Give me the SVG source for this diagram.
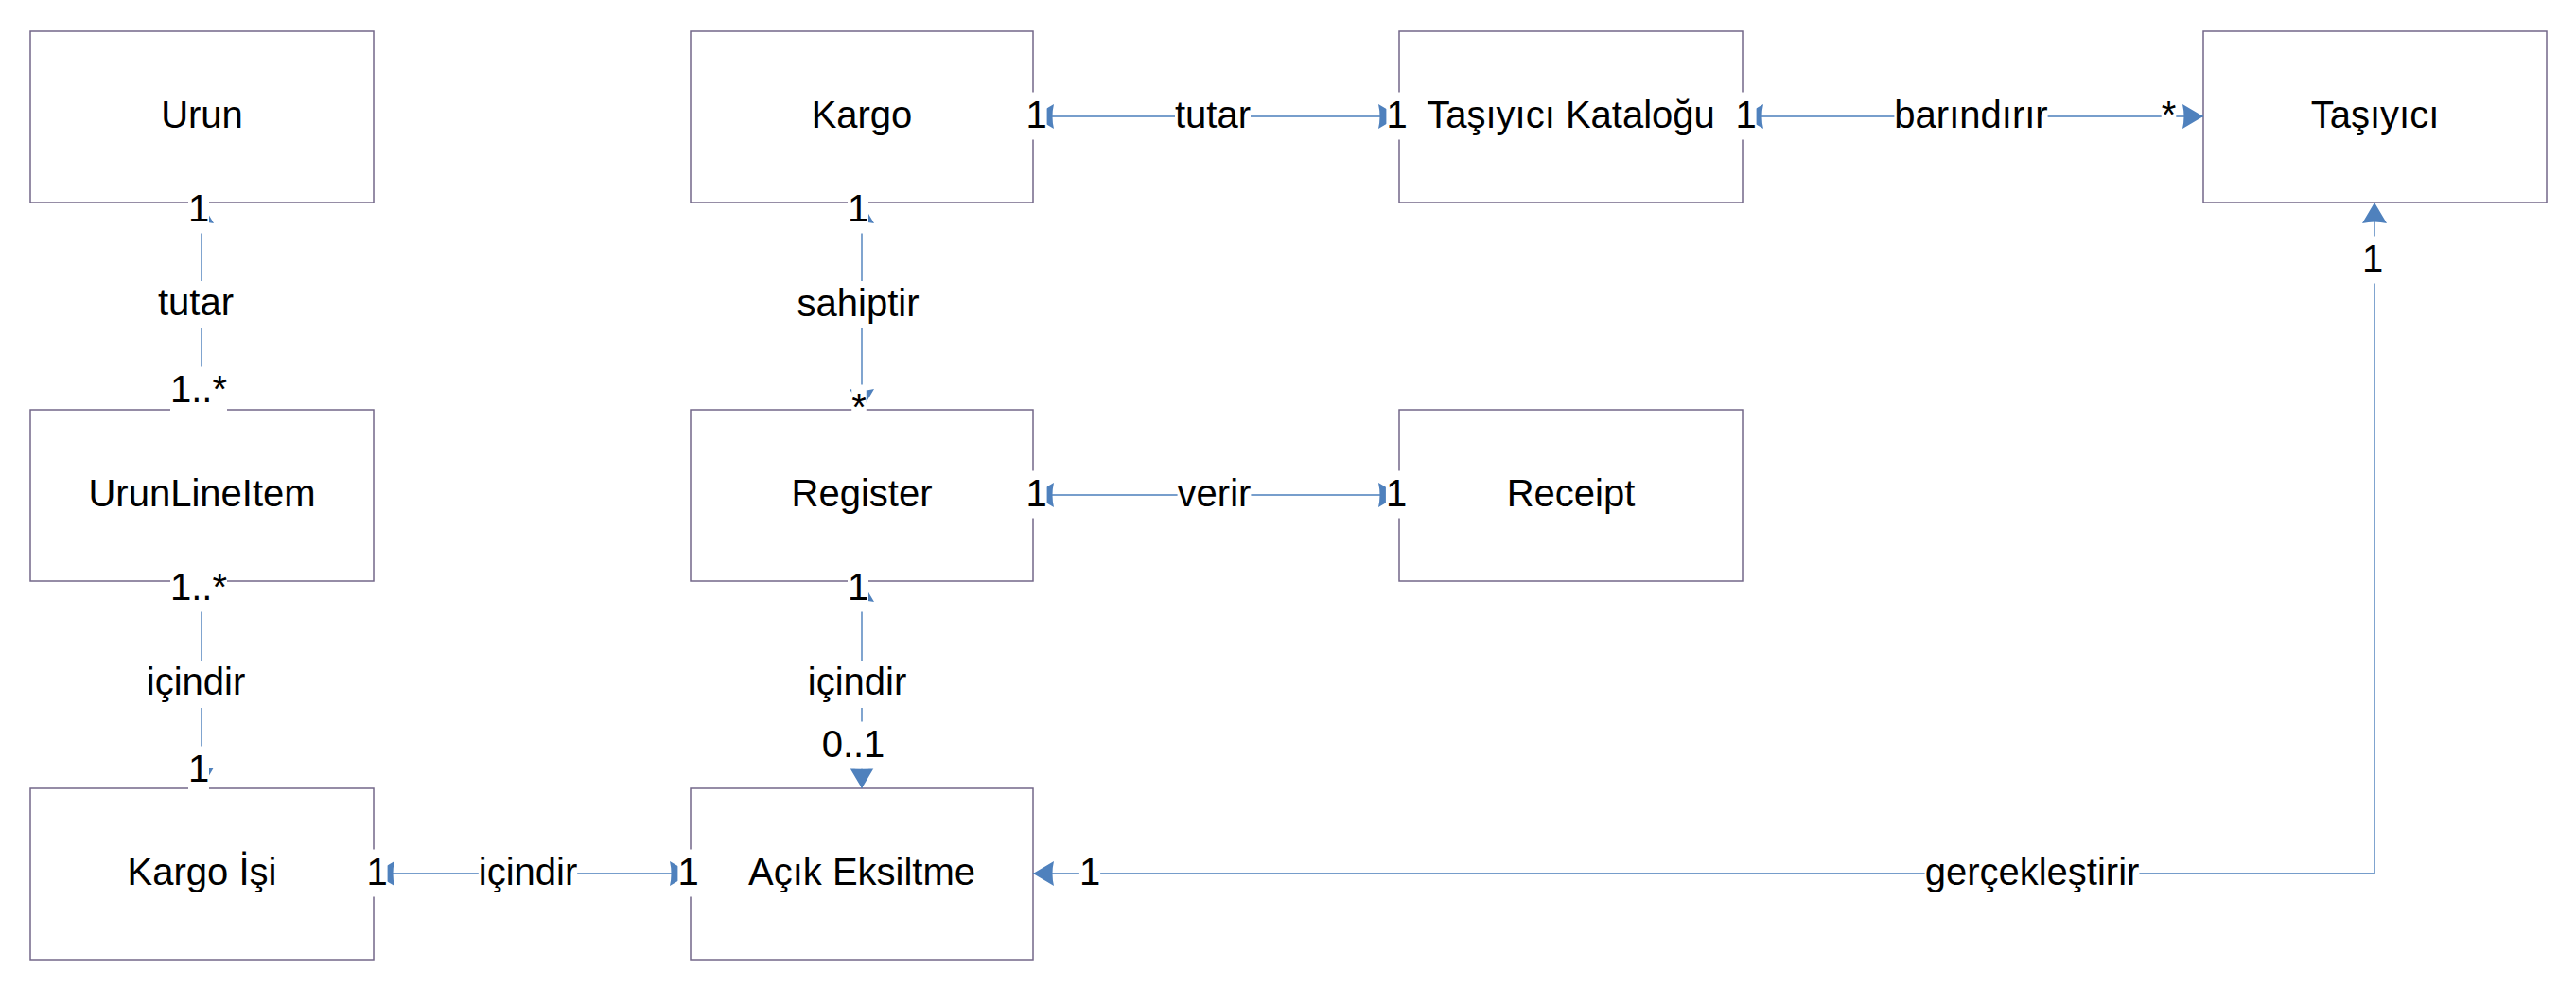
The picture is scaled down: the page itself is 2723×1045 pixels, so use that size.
<svg xmlns="http://www.w3.org/2000/svg" width="2723" height="1045" viewBox="0 0 2723 1045">
<style>
.box{fill:#ffffff;stroke:#736789;stroke-width:1.5}
.nt{font-family:"Liberation Sans",Arial,sans-serif;font-size:40px;fill:#000;text-anchor:middle}
.ln{fill:none;stroke:#4a7ebb;stroke-width:1.4;marker-start:url(#ah);marker-end:url(#ah)}
.bg{fill:#ffffff}
.lt{font-family:"Liberation Sans",Arial,sans-serif;font-size:40px;fill:#000;text-anchor:middle}
</style>
<defs>
<marker id="ah" markerUnits="userSpaceOnUse" markerWidth="22" markerHeight="26" refX="22" refY="13" orient="auto-start-reverse" overflow="visible">
<path d="M0,0 L22,13 L0,26 Q3,13 0,0 z" fill="#4f81bd"/>
</marker>
</defs>
<rect width="2723" height="1045" fill="#ffffff"/>
<g id="nodes">
<g id="urun"><rect class="box" x="32" y="33" width="363" height="181"/><text class="nt" x="213.5" y="135">Urun</text></g>
<g id="kargo"><rect class="box" x="730" y="33" width="362" height="181"/><text class="nt" x="911" y="135">Kargo</text></g>
<g id="tasiyici-katalogu"><rect class="box" x="1479" y="33" width="363" height="181"/><text class="nt" x="1660.5" y="135">Taşıyıcı Kataloğu</text></g>
<g id="tasiyici"><rect class="box" x="2329" y="33" width="363" height="181"/><text class="nt" x="2510.5" y="135">Taşıyıcı</text></g>
<g id="urunlineitem"><rect class="box" x="32" y="433" width="363" height="181"/><text class="nt" x="213.5" y="535">UrunLineItem</text></g>
<g id="register"><rect class="box" x="730" y="433" width="362" height="181"/><text class="nt" x="911" y="535">Register</text></g>
<g id="receipt"><rect class="box" x="1479" y="433" width="363" height="181"/><text class="nt" x="1660.5" y="535">Receipt</text></g>
<g id="kargo-isi"><rect class="box" x="32" y="833" width="363" height="181"/><text class="nt" x="213.5" y="935">Kargo İşi</text></g>
<g id="acik-eksiltme"><rect class="box" x="730" y="833" width="362" height="181"/><text class="nt" x="911" y="935">Açık Eksiltme</text></g>
</g>
<g id="connectors">
<path class="ln" d="M213,214 V433"/>
<path class="ln" d="M213,614 V833"/>
<path class="ln" d="M911,214 V433"/>
<path class="ln" d="M911,614 V833"/>
<path class="ln" d="M1092,123 H1479"/>
<path class="ln" d="M1842,123 H2329"/>
<path class="ln" d="M1092,523 H1479"/>
<path class="ln" d="M395,923 H730"/>
<path class="ln" d="M2510,214 V923 H1092"/>
<g id="labels">
<rect class="bg" x="199" y="196.5" width="22" height="50"/><text class="lt" x="210" y="234">1</text>
<rect class="bg" x="167" y="297" width="80" height="50"/><text class="lt" x="207" y="333">tutar</text>
<rect class="bg" x="180" y="387.5" width="60" height="50"/><text class="lt" x="210" y="425">1..*</text>
<rect class="bg" x="180" y="596.5" width="60" height="50"/><text class="lt" x="210" y="634">1..*</text>
<rect class="bg" x="155" y="698" width="104" height="50"/><text class="lt" x="207" y="734">içindir</text>
<rect class="bg" x="199" y="788.5" width="22" height="50"/><text class="lt" x="210" y="826">1</text>

<rect class="bg" x="896" y="196.5" width="22" height="50"/><text class="lt" x="907" y="234">1</text>
<rect class="bg" x="842.5" y="297" width="129" height="50"/><text class="lt" x="907" y="334">sahiptir</text>
<rect class="bg" x="900.2" y="406.5" width="15.6" height="50"/><text class="lt" x="908" y="444">*</text>
<rect class="bg" x="896" y="596.5" width="22" height="50"/><text class="lt" x="907" y="634">1</text>
<rect class="bg" x="854" y="698" width="104" height="50"/><text class="lt" x="906" y="734">içindir</text>
<rect class="bg" x="868.5" y="762.5" width="67" height="50"/><text class="lt" x="902" y="800">0..1</text>

<rect class="bg" x="1084.4" y="97.5" width="22.2" height="50"/><text class="lt" x="1095.5" y="135">1</text>
<rect class="bg" x="1242" y="97.5" width="80" height="50"/><text class="lt" x="1282" y="135">tutar</text>
<rect class="bg" x="1465.4" y="97.5" width="22.2" height="50"/><text class="lt" x="1476.5" y="135">1</text>
<rect class="bg" x="1834.4" y="97.5" width="22.2" height="50"/><text class="lt" x="1845.5" y="135">1</text>
<rect class="bg" x="2002.4" y="97.5" width="162.2" height="50"/><text class="lt" x="2083.5" y="135">barındırır</text>
<rect class="bg" x="2284.7" y="97.5" width="15.6" height="50"/><text class="lt" x="2292.5" y="135">*</text>

<rect class="bg" x="1084.4" y="497.5" width="22.2" height="50"/><text class="lt" x="1095.5" y="535">1</text>
<rect class="bg" x="1244.6" y="497.5" width="77.8" height="50"/><text class="lt" x="1283.5" y="535">verir</text>
<rect class="bg" x="1464.9" y="497.5" width="22.2" height="50"/><text class="lt" x="1476" y="535">1</text>

<rect class="bg" x="387.4" y="897.5" width="22.2" height="50"/><text class="lt" x="398.5" y="935">1</text>
<rect class="bg" x="505.8" y="897.5" width="104.4" height="50"/><text class="lt" x="558" y="935">içindir</text>
<rect class="bg" x="716.4" y="897.5" width="22.2" height="50"/><text class="lt" x="727.5" y="935">1</text>

<rect class="bg" x="1140.9" y="897.5" width="22.2" height="50"/><text class="lt" x="1152" y="935">1</text>
<rect class="bg" x="2034.6" y="897.5" width="226.8" height="50"/><text class="lt" x="2148" y="935">gerçekleştirir</text>
<rect class="bg" x="2496.9" y="249.5" width="22.2" height="50"/><text class="lt" x="2508" y="287">1</text>
</g>
</g>
</svg>
